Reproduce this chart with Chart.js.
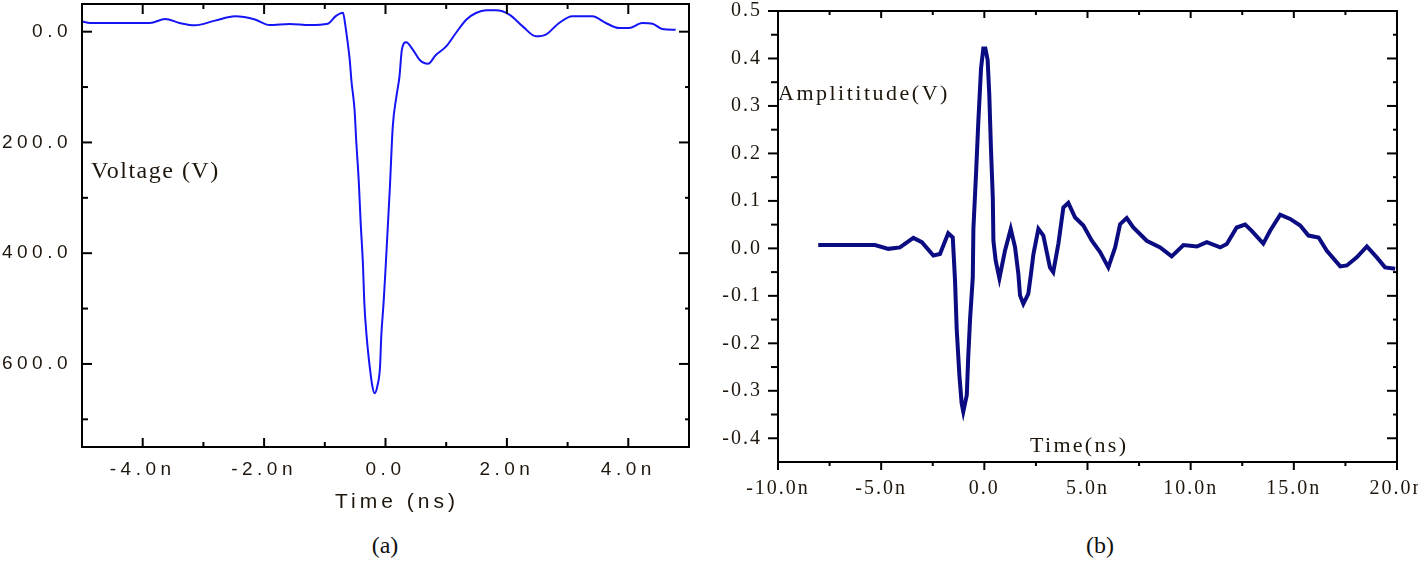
<!DOCTYPE html>
<html>
<head>
<meta charset="utf-8">
<script src="https://cdn.jsdelivr.net/npm/chart.js@4.4.1/dist/chart.umd.min.js"></script>
<style>
  html, body { margin: 0; padding: 0; background: #fff; }
  #page { position: relative; width: 1418px; height: 562px; overflow: hidden; }
  .box { position: absolute; top: 0; height: 530px; }
  #boxA { left: 0; width: 700px; }
  #boxB { left: 700px; width: 718px; }
  .cap { position: absolute; top: 532px; font-family: "Liberation Serif", serif; font-size: 24px; color: #111; transform: translateX(-50%); }
</style>
</head>
<body>
<div id="page">
  <div class="box" id="boxA"><canvas id="chartA"></canvas></div>
  <div class="box" id="boxB"><canvas id="chartB"></canvas></div>
  <div class="cap" style="left:385px">(a)</div>
  <div class="cap" style="left:1100px">(b)</div>
</div>
<script>
// (a) source pulse, time in ns, voltage in V (axis runs downward)
const timeA = [-5.0, -4.87, -3.88, -3.63, -3.39, -3.14, -2.81, -2.48, -2.15, -1.91, -1.58, -1.25, -0.95, -0.82,
  -0.70, -0.66, -0.63, -0.59, -0.56, -0.51, -0.48, -0.44, -0.41, -0.37, -0.35, -0.31, -0.26, -0.22, -0.18, -0.13,
  -0.09, -0.07, -0.03, 0.0, 0.07, 0.12, 0.18, 0.23, 0.27, 0.34, 0.45, 0.56, 0.70, 0.83, 1.0, 1.16, 1.33, 1.49,
  1.66, 1.82, 2.04, 2.26, 2.48, 2.64, 2.86, 3.08, 3.41, 3.63, 3.85, 4.01, 4.23, 4.40, 4.56, 4.78];
const voltA = [-18.6, -15.7, -15.7, -23, -15.7, -11.4, -20, -27.7, -22, -12, -14, -12, -14.5, -28,
  -34, -10, 14, 50, 90, 141, 201, 271, 343, 424, 487, 551, 605, 638, 653, 638,
  605, 551, 487, 430, 286, 171, 117, 81, 32.5, 19, 32.5, 50.6, 58, 42, 26.5, 2.4, -21.7, -33.7,
  -38.5, -38.5, -30.7, -9.6, 8.4, 5.4, -15.7, -27.7, -27.7, -15.7, -6.6, -6.6, -15.7, -14.5, -4.8, -3.6];
const xTicksA = [-4, -2, 0, 2, 4];
const xLabelsA = ['-4.0n', '-2.0n', '0.0', '2.0n', '4.0n'];
const xMinorA = [-3, -1, 1, 3];
const yTicksA = [0, 200, 400, 600];
const yLabelsA = ['0.0', '200.0', '400.0', '600.0'];
const yMinorA = [100, 300, 500, 700];

// (b) received signal, time in ns, amplitude in V
const timeB = [-8.05, -5.30, -4.65, -4.09, -3.44, -3.03, -2.47, -2.15, -1.75, -1.53, -1.42, -1.34, -1.21, -1.10,
  -1.02, -0.85, -0.78, -0.69, -0.56, -0.53, -0.40, -0.29, -0.16, -0.05, 0.05, 0.16, 0.24, 0.32, 0.41, 0.44,
  0.55, 0.73, 1.00, 1.28, 1.49, 1.65, 1.73, 1.89, 2.13, 2.25, 2.38, 2.62, 2.86, 3.18, 3.34, 3.59, 3.83, 4.07,
  4.40, 4.80, 5.21, 5.61, 6.01, 6.34, 6.58, 6.90, 7.22, 7.87, 8.52, 9.08, 9.65, 10.30, 10.78, 11.43, 11.75,
  12.23, 12.64, 12.96, 13.52, 13.85, 14.34, 14.82, 15.31, 15.71, 16.20, 16.60, 17.25, 17.57, 18.05, 18.54,
  19.02, 19.42, 19.91];
const ampB = [0.007, 0.007, -0.001, 0.002, 0.022, 0.013, -0.015, -0.012, 0.032, 0.023, -0.068, -0.169, -0.267, -0.326,
  -0.344, -0.309, -0.228, -0.148, -0.061, 0.041, 0.159, 0.268, 0.379, 0.421, 0.421, 0.397, 0.324, 0.212, 0.107, 0.016,
  -0.026, -0.063, -0.005, 0.041, 0.002, -0.054, -0.099, -0.117, -0.096, -0.057, -0.012, 0.041, 0.027, -0.04, -0.05, 0.01, 0.086, 0.096,
  0.065, 0.048, 0.016, -0.008, -0.04, 0.002, 0.051, 0.064, 0.044, 0.016, 0.002, -0.017, 0.007, 0.004, 0.013, 0.002, 0.009,
  0.044, 0.05, 0.037, 0.010, 0.037, 0.071, 0.062, 0.048, 0.027, 0.023, -0.005, -0.038, -0.036, -0.019, 0.004,
  -0.019, -0.04, -0.043];
const xTicksB = [-10, -5, 0, 5, 10, 15, 20];
const xLabelsB = ['-10.0n', '-5.0n', '0.0', '5.0n', '10.0n', '15.0n', '20.0n'];
const xMinorB = [-7.5, -2.5, 2.5, 7.5, 12.5, 17.5];
const yTicksB = [-0.4, -0.3, -0.2, -0.1, 0, 0.1, 0.2, 0.3, 0.4, 0.5];
const yLabelsB = ['-0.4', '-0.3', '-0.2', '-0.1', '0.0', '0.1', '0.2', '0.3', '0.4', '0.5'];
const yMinorB = [-0.35, -0.25, -0.15, -0.05, 0.05, 0.15, 0.25, 0.35, 0.45];

const TEXT = '#1e160c';

// box frame with tick marks on all four sides, plus the axis names placed inside the plot
// len: [major, minor], positive = into the plot
function framePlugin(o) {
  return {
    id: 'frame',
    beforeDraw(chart) { chart.ctx.letterSpacing = o.tickSpacing; },
    beforeDatasetsDraw(chart) { chart.ctx.letterSpacing = '0px'; },
    afterDraw(chart) {
      const { ctx, chartArea: a, scales: { x, y } } = chart;
      ctx.save();
      ctx.strokeStyle = '#000';
      ctx.lineWidth = 2;
      ctx.strokeRect(a.left, a.top, a.right - a.left, a.bottom - a.top);
      const seg = (x1, y1, x2, y2) => { ctx.beginPath(); ctx.moveTo(x1, y1); ctx.lineTo(x2, y2); ctx.stroke(); };
      [[o.xMajor, 0], [o.xMinor, 1]].forEach(([vals, k]) => vals.forEach(v => {
        const p = x.getPixelForValue(v);
        seg(p, a.bottom, p, a.bottom - o.bottom[k]);
        seg(p, a.top, p, a.top + o.top[k]);
      }));
      [[o.yMajor, 0], [o.yMinor, 1]].forEach(([vals, k]) => vals.forEach(v => {
        const p = y.getPixelForValue(v);
        seg(a.left, p, a.left + o.left[k], p);
        seg(a.right, p, a.right - o.right[k], p);
      }));
      ctx.fillStyle = TEXT;
      ctx.textBaseline = 'alphabetic';
      ctx.textAlign = 'left';
      o.labels.forEach(l => {
        ctx.font = l.font;
        ctx.letterSpacing = l.spacing;
        ctx.fillText(l.text, l.x, l.y);
      });
      ctx.restore();
    }
  };
}

function makeChart(id, c) {
  new Chart(document.getElementById(id), {
    type: 'line',
    data: {
      datasets: [{
        data: c.xs.map((t, i) => ({ x: t, y: c.ys[i] })),
        borderColor: c.color,
        borderWidth: c.width,
        pointRadius: 0,
        fill: false,
        tension: c.tension,
        cubicInterpolationMode: c.mode
      }]
    },
    options: {
      responsive: true,
      maintainAspectRatio: false,
      animation: false,
      layout: { padding: c.padding },
      plugins: { legend: { display: false }, tooltip: { enabled: false } },
      scales: {
        x: {
          type: 'linear', min: c.xMin, max: c.xMax,
          grid: { display: false, drawTicks: false },
          border: { display: false },
          afterBuildTicks: s => { s.ticks = c.xTicks.map(v => ({ value: v })); },
          afterFit: s => { s.height = c.xHeight; s.paddingLeft = 0; s.paddingRight = 0; },
          ticks: { callback: (v, i) => c.xLabels[i], color: TEXT, font: c.tickFont, padding: c.xPad, maxRotation: 0, autoSkip: false }
        },
        y: {
          type: 'linear', min: c.yMin, max: c.yMax, reverse: c.reverse,
          grid: { display: false, drawTicks: false },
          border: { display: false },
          afterBuildTicks: s => { s.ticks = c.yTicks.map(v => ({ value: v })); },
          afterFit: s => { s.width = c.yWidth; s.paddingTop = 0; s.paddingBottom = 0; },
          ticks: { callback: (v, i) => c.yLabels[i], color: TEXT, font: c.tickFont, padding: c.yPad, autoSkip: false }
        }
      }
    },
    plugins: [framePlugin(c.frame)]
  });
}

makeChart('chartA', {
  xs: timeA, ys: voltA, color: '#1414f5', width: 2, tension: 0, mode: 'monotone',
  padding: { left: 0, top: 4, right: 11, bottom: 0 },
  xMin: -5, xMax: 5, xTicks: xTicksA, xLabels: xLabelsA, xHeight: 83, xPad: 11,
  yMin: -50, yMax: 750, reverse: true, yTicks: yTicksA, yLabels: yLabelsA, yWidth: 82, yPad: 10,
  tickFont: { family: 'Liberation Sans', size: 19 },
  frame: {
    tickSpacing: '4.5px',
    xMajor: xTicksA, xMinor: xMinorA, yMajor: yTicksA, yMinor: yMinorA,
    bottom: [9, 5], top: [10, 5], left: [10, 6], right: [10, 4],
    labels: [
      { text: 'Voltage (V)', x: 91, y: 178, font: '24px "Liberation Serif"', spacing: '1.5px' },
      { text: 'Time (ns)', x: 335, y: 508, font: '21px "Liberation Sans"', spacing: '4px' }
    ]
  }
});

makeChart('chartB', {
  xs: timeB, ys: ampB, color: '#0b0b82', width: 4, tension: 0, mode: 'default',
  padding: { left: 0, top: 11, right: 21, bottom: 0 },
  xMin: -10, xMax: 20, xTicks: xTicksB, xLabels: xLabelsB, xHeight: 68, xPad: 15,
  yMin: -0.45, yMax: 0.5, reverse: false, yTicks: yTicksB, yLabels: yLabelsB, yWidth: 78, yPad: 16,
  tickFont: { family: 'Liberation Serif', size: 20 },
  frame: {
    tickSpacing: '2px',
    xMajor: xTicksB, xMinor: xMinorB, yMajor: yTicksB, yMinor: yMinorB,
    bottom: [-8, -4], top: [7, 4], left: [-10, -7], right: [10, 4],
    labels: [
      { text: 'Amplititude(V)', x: 78, y: 100, font: '22px "Liberation Serif"', spacing: '2.5px' },
      { text: 'Time(ns)', x: 330, y: 452, font: '22px "Liberation Serif"', spacing: '2.3px' }
    ]
  }
});
</script>
</body>
</html>
